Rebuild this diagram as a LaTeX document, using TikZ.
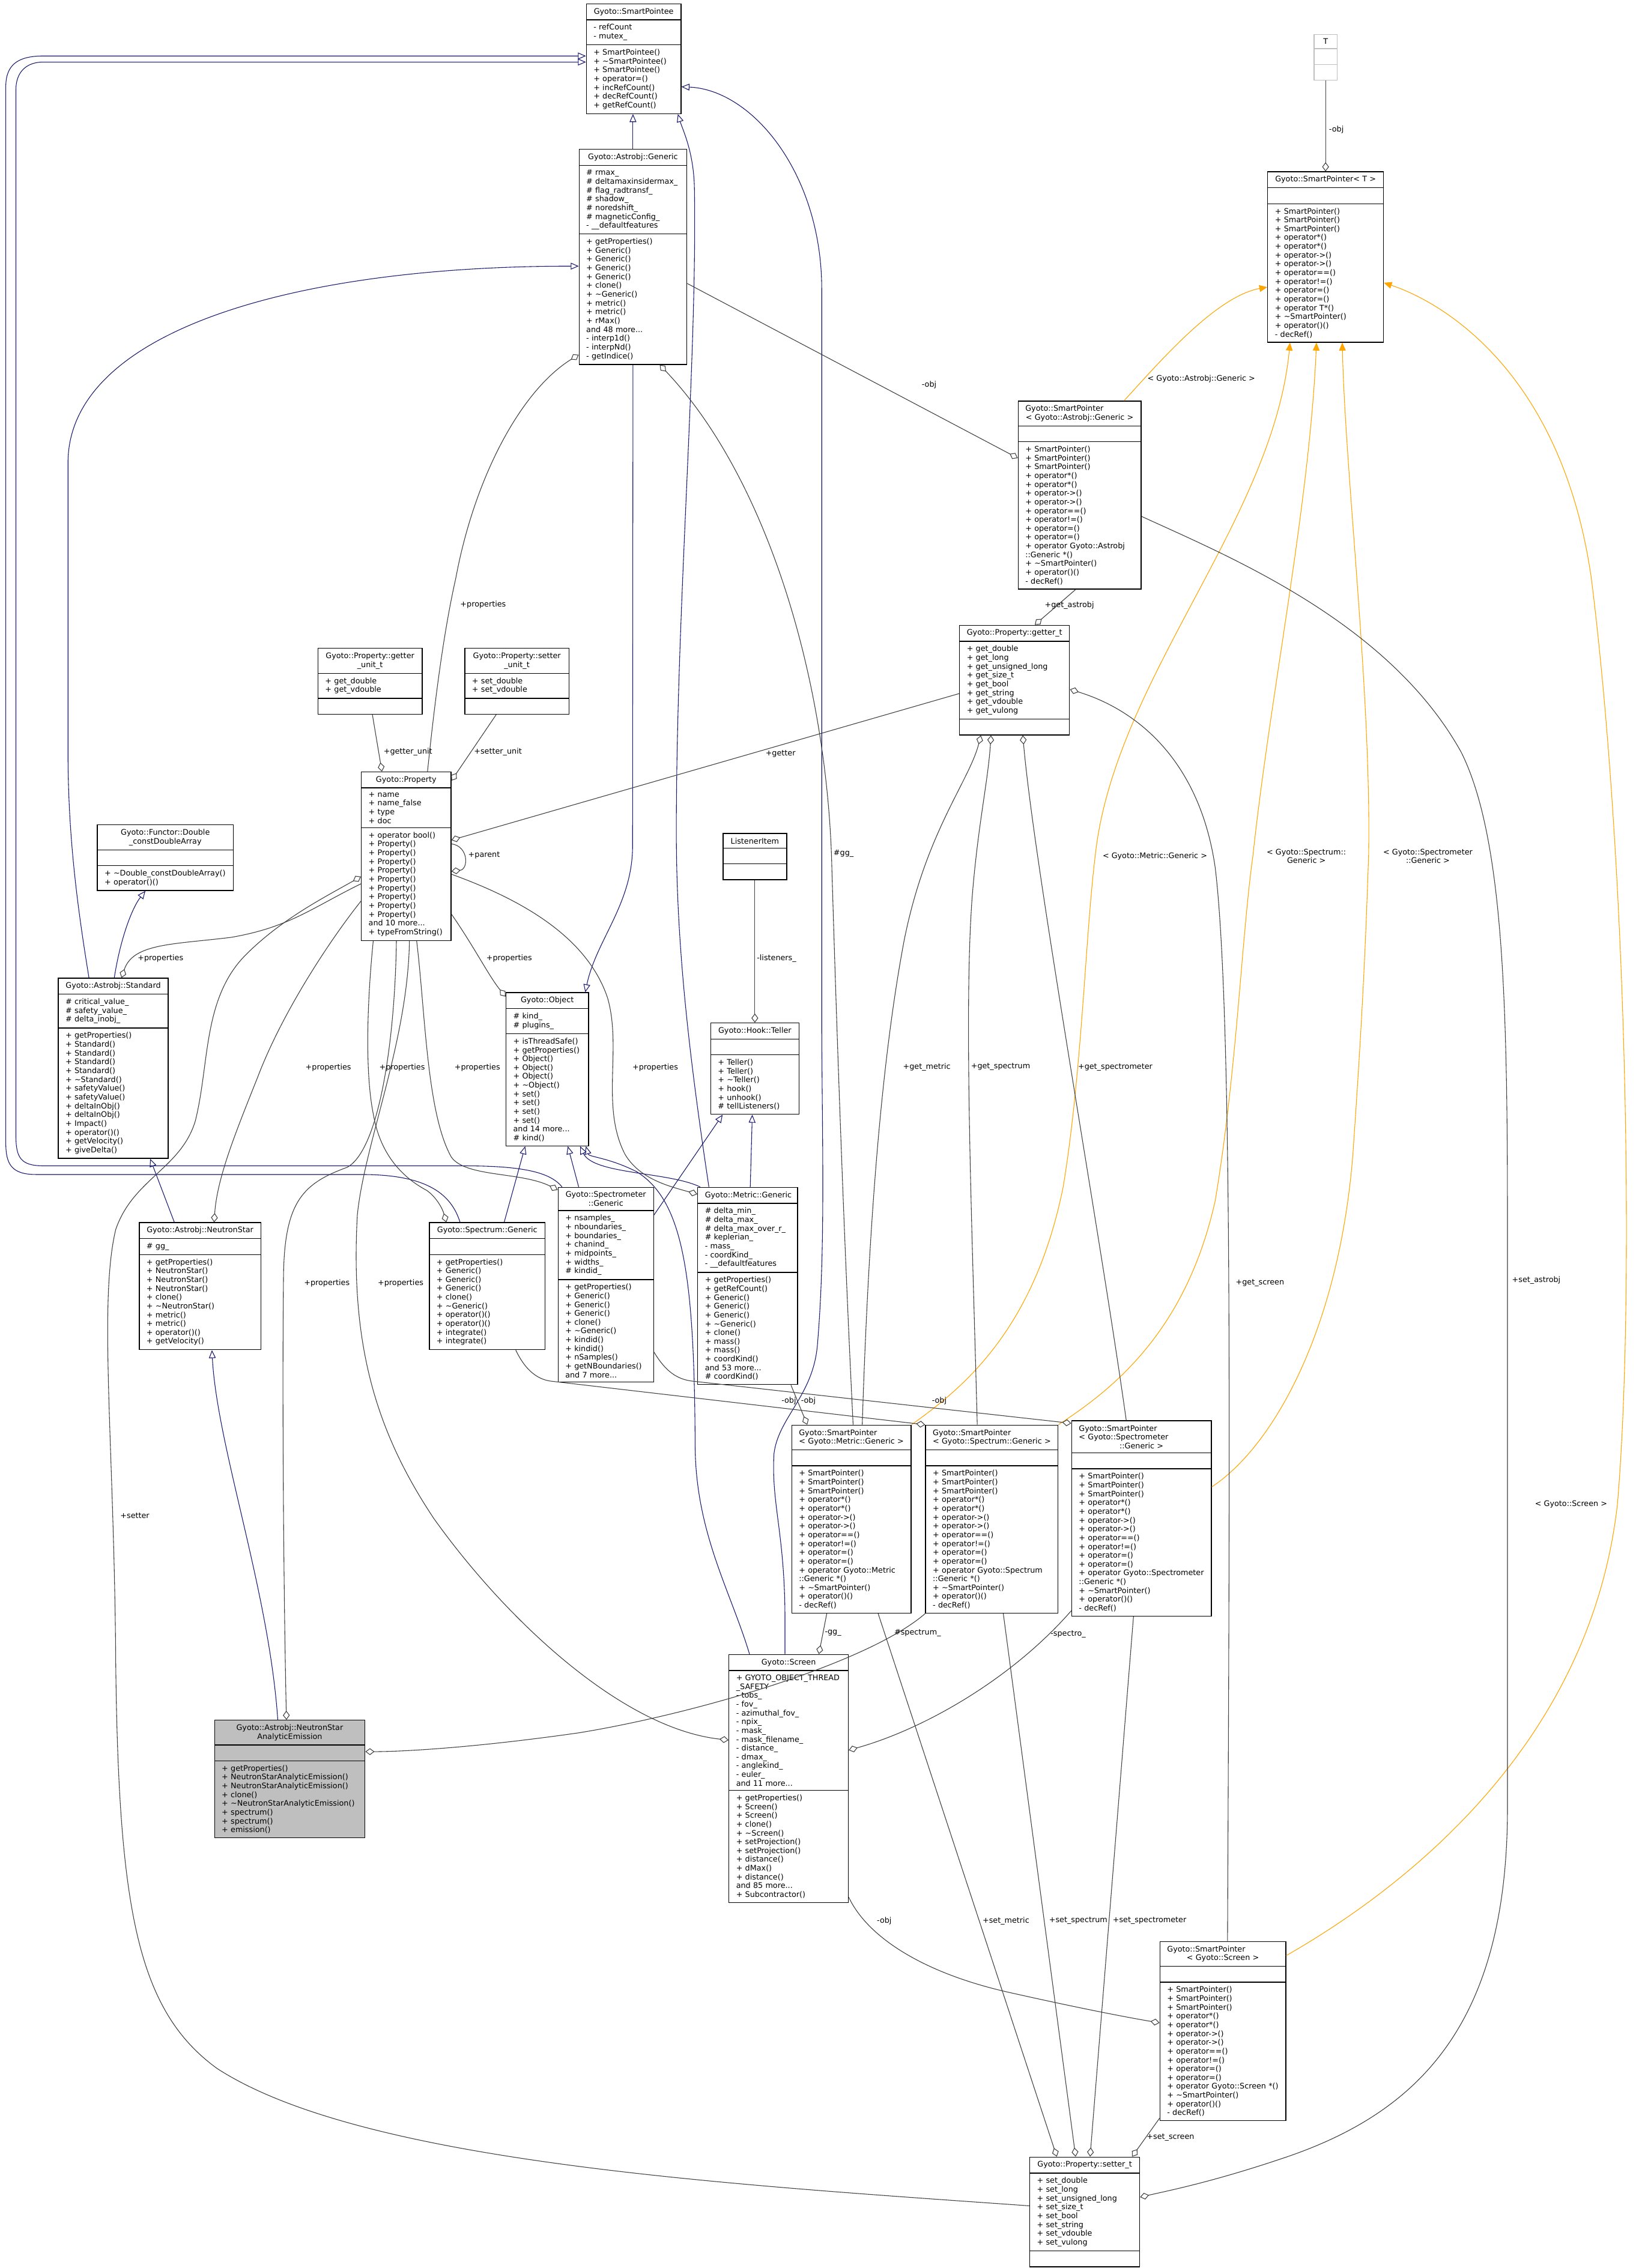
\documentclass[tikz,border=0pt]{standalone}
\usepackage{tikz}
\usepackage{fontspec}
\setmainfont{DejaVu Sans}[HyphenChar=None]
\usetikzlibrary{arrows.meta,shapes.multipart}
\definecolor{midnight}{HTML}{191970}
\definecolor{edgegrey}{HTML}{404040}
\definecolor{boxgrey}{HTML}{BFBFBF}
\definecolor{tplorange}{HTML}{FFA500}
\setlength{\parindent}{0pt}
\newcommand{\dx}{\fontsize{5.3}{6.08}\selectfont}
\newcommand{\tld}{\textasciitilde}
\newcommand{\emp}{\rule[-1pt]{0pt}{5pt}}

\begin{document}
\begin{tikzpicture}[x=1pt,y=-1pt,
  cls/.style={rectangle split,rectangle split parts=3,draw,line width=0.55pt,
    inner xsep=5pt,inner ysep=2.7pt,text width=#1,align=left,anchor=north west,font=\dx},
  inh/.style={draw=midnight,line width=0.45pt,-{Triangle[open,length=5.5pt,width=4.7pt]}},
  agg/.style={draw=edgegrey,line width=0.45pt,-{Diamond[open,length=6.3pt,width=4.7pt]}},
  tpl/.style={draw=tplorange,line width=0.45pt,-{Triangle[length=5.5pt,width=4.7pt,fill=tplorange]}},
  lbl/.style={anchor=west,inner sep=0pt,font=\dx}]
  \path[use as bounding box,fill=white] (0,0) rectangle (1137,1568);

  \node[cls=55.5pt] (spee) at (405,2.4) {{\centering Gyoto::SmartPointee\par}
    \nodepart{two}-~refCount\\-~mutex\_
    \nodepart{three}+~SmartPointee()\\+~\tld{}SmartPointee()\\+~SmartPointee()\\+~operator=()\\+~incRefCount()\\+~decRefCount()\\+~getRefCount()};
  \node[cls=64.5pt] (agen) at (400,103) {{\centering Gyoto::Astrobj::Generic\par}
    \nodepart{two}\#~rmax\_\\\#~deltamaxinsidermax\_\\\#~flag\_radtransf\_\\\#~shadow\_\\\#~noredshift\_\\\#~magneticConfig\_\\-~\_\_defaultfeatures
    \nodepart{three}+~getProperties()\\+~Generic()\\+~Generic()\\+~Generic()\\+~Generic()\\+~clone()\\+~\tld{}Generic()\\+~metric()\\+~metric()\\+~rMax()\\and~48~more...\\-~interp1d()\\-~interpNd()\\-~getIndice()};
  \node[cls=6pt,draw=boxgrey] (tpar) at (908,23.5) {{\centering T\par}\nodepart{two}\emp\nodepart{three}\emp};
  \node[cls=70pt] (spt) at (876,118.5) {{\centering Gyoto::SmartPointer<~T~>\par}
    \nodepart{two}\emp
    \nodepart{three}+~SmartPointer()\\+~SmartPointer()\\+~SmartPointer()\\+~operator*()\\+~operator*()\\+~operator->()\\+~operator->()\\+~operator==()\\+~operator!=()\\+~operator=()\\+~operator=()\\+~operator~T*()\\+~\tld{}SmartPointer()\\+~operator()()\\-~decRef()};
  \node[cls=75pt] (spag) at (703.5,277) {Gyoto::SmartPointer\par{\centering <~Gyoto::Astrobj::Generic~>\par}
    \nodepart{two}\emp
    \nodepart{three}+~SmartPointer()\\+~SmartPointer()\\+~SmartPointer()\\+~operator*()\\+~operator*()\\+~operator->()\\+~operator->()\\+~operator==()\\+~operator!=()\\+~operator=()\\+~operator=()\\+~operator~Gyoto::Astrobj\\::Generic~*()\\+~\tld{}SmartPointer()\\+~operator()()\\-~decRef()};
  \node[cls=66pt] (gett) at (663,432) {{\centering Gyoto::Property::getter\_t\par}
    \nodepart{two}+~get\_double\\+~get\_long\\+~get\_unsigned\_long\\+~get\_size\_t\\+~get\_bool\\+~get\_string\\+~get\_vdouble\\+~get\_vulong
    \nodepart{three}\emp};
  \node[cls=62pt] (getu) at (219.5,448) {{\centering Gyoto::Property::getter\\\_unit\_t\par}
    \nodepart{two}+~get\_double\\+~get\_vdouble
    \nodepart{three}\emp};
  \node[cls=62pt] (setu) at (321,448) {{\centering Gyoto::Property::setter\\\_unit\_t\par}
    \nodepart{two}+~set\_double\\+~set\_vdouble
    \nodepart{three}\emp};
  \node[cls=52pt] (prop) at (249.5,533.4) {{\centering Gyoto::Property\par}
    \nodepart{two}+~name\\+~name\_false\\+~type\\+~doc
    \nodepart{three}+~operator~bool()\\+~Property()\\+~Property()\\+~Property()\\+~Property()\\+~Property()\\+~Property()\\+~Property()\\+~Property()\\+~Property()\\and~10~more...\\+~typeFromString()};
  \node[cls=84pt] (func) at (67,570) {{\centering Gyoto::Functor::Double\\\_constDoubleArray\par}
    \nodepart{two}\emp
    \nodepart{three}+~\tld{}Double\_constDoubleArray()\\+~operator()()};
  \node[cls=66pt] (stdd) at (40,676) {{\centering Gyoto::Astrobj::Standard\par}
    \nodepart{two}\#~critical\_value\_\\\#~safety\_value\_\\\#~delta\_inobj\_
    \nodepart{three}+~getProperties()\\+~Standard()\\+~Standard()\\+~Standard()\\+~Standard()\\+~\tld{}Standard()\\+~safetyValue()\\+~safetyValue()\\+~deltaInObj()\\+~deltaInObj()\\+~Impact()\\+~operator()()\\+~getVelocity()\\+~giveDelta()};
  \node[cls=34pt] (lsit) at (499.5,576) {{\centering ListenerItem\par}\nodepart{two}\emp\nodepart{three}\emp};
  \node[cls=47pt] (obj) at (349.5,686) {{\centering Gyoto::Object\par}
    \nodepart{two}\#~kind\_\\\#~plugins\_
    \nodepart{three}+~isThreadSafe()\\+~getProperties()\\+~Object()\\+~Object()\\+~Object()\\+~\tld{}Object()\\+~set()\\+~set()\\+~set()\\+~set()\\and~14~more...\\\#~kind()};
  \node[cls=51pt] (tell) at (491,707) {{\centering Gyoto::Hook::Teller\par}
    \nodepart{two}\emp
    \nodepart{three}+~Teller()\\+~Teller()\\+~\tld{}Teller()\\+~hook()\\+~unhook()\\\#~tellListeners()};
  \node[cls=70pt] (spec) at (296.5,845) {{\centering Gyoto::Spectrum::Generic\par}
    \nodepart{two}\emp
    \nodepart{three}+~getProperties()\\+~Generic()\\+~Generic()\\+~Generic()\\+~clone()\\+~\tld{}Generic()\\+~operator()()\\+~operator()()\\+~integrate()\\+~integrate()};
  \node[cls=56pt] (sptr) at (385.5,820.6) {{\centering Gyoto::Spectrometer\\::Generic\par}
    \nodepart{two}+~nsamples\_\\+~nboundaries\_\\+~boundaries\_\\+~chanind\_\\+~midpoints\_\\+~widths\_\\\#~kindid\_
    \nodepart{three}+~getProperties()\\+~Generic()\\+~Generic()\\+~Generic()\\+~clone()\\+~\tld{}Generic()\\+~kindid()\\+~kindid()\\+~nSamples()\\+~getNBoundaries()\\and~7~more...};
  \node[cls=59pt] (metr) at (482,820.6) {{\centering Gyoto::Metric::Generic\par}
    \nodepart{two}\#~delta\_min\_\\\#~delta\_max\_\\\#~delta\_max\_over\_r\_\\\#~keplerian\_\\-~mass\_\\-~coordKind\_\\-~\_\_defaultfeatures
    \nodepart{three}+~getProperties()\\+~getRefCount()\\+~Generic()\\+~Generic()\\+~Generic()\\+~\tld{}Generic()\\+~clone()\\+~mass()\\+~mass()\\+~coordKind()\\and~53~more...\\\#~coordKind()};
  \node[cls=74pt] (nstar) at (96,845) {{\centering Gyoto::Astrobj::NeutronStar\par}
    \nodepart{two}\#~gg\_
    \nodepart{three}+~getProperties()\\+~NeutronStar()\\+~NeutronStar()\\+~NeutronStar()\\+~clone()\\+~\tld{}NeutronStar()\\+~metric()\\+~metric()\\+~operator()()\\+~getVelocity()};
  \node[cls=72.5pt] (spm) at (547,985) {Gyoto::SmartPointer\par{\centering <~Gyoto::Metric::Generic~>\par}
    \nodepart{two}\emp
    \nodepart{three}+~SmartPointer()\\+~SmartPointer()\\+~SmartPointer()\\+~operator*()\\+~operator*()\\+~operator->()\\+~operator->()\\+~operator==()\\+~operator!=()\\+~operator=()\\+~operator=()\\+~operator~Gyoto::Metric\\::Generic~*()\\+~\tld{}SmartPointer()\\+~operator()()\\-~decRef()};
  \node[cls=81.5pt] (sps) at (639.5,985) {Gyoto::SmartPointer\par{\centering <~Gyoto::Spectrum::Generic~>\par}
    \nodepart{two}\emp
    \nodepart{three}+~SmartPointer()\\+~SmartPointer()\\+~SmartPointer()\\+~operator*()\\+~operator*()\\+~operator->()\\+~operator->()\\+~operator==()\\+~operator!=()\\+~operator=()\\+~operator=()\\+~operator~Gyoto::Spectrum\\::Generic~*()\\+~\tld{}SmartPointer()\\+~operator()()\\-~decRef()};
  \node[cls=86.5pt] (spsm) at (740.5,982) {Gyoto::SmartPointer\\<~Gyoto::Spectrometer\par{\centering ::Generic~>\par}
    \nodepart{two}\emp
    \nodepart{three}+~SmartPointer()\\+~SmartPointer()\\+~SmartPointer()\\+~operator*()\\+~operator*()\\+~operator->()\\+~operator->()\\+~operator==()\\+~operator!=()\\+~operator=()\\+~operator=()\\+~operator~Gyoto::Spectrometer\\::Generic~*()\\+~\tld{}SmartPointer()\\+~operator()()\\-~decRef()};
  \node[cls=72.5pt] (scr) at (503.6,1143.6) {{\centering Gyoto::Screen\par}
    \nodepart{two}+~GYOTO\_OBJECT\_THREAD\\\_SAFETY\\-~tobs\_\\-~fov\_\\-~azimuthal\_fov\_\\-~npix\_\\-~mask\_\\-~mask\_filename\_\\-~distance\_\\-~dmax\_\\-~anglekind\_\\-~euler\_\\and~11~more...
    \nodepart{three}+~getProperties()\\+~Screen()\\+~Screen()\\+~clone()\\+~\tld{}Screen()\\+~setProjection()\\+~setProjection()\\+~distance()\\+~dMax()\\+~distance()\\and~85~more...\\+~Subcontractor()};
  \node[cls=94pt,fill=boxgrey] (nsae) at (148,1189) {{\centering Gyoto::Astrobj::NeutronStar\\AnalyticEmission\par}
    \nodepart{two}\emp
    \nodepart{three}+~getProperties()\\+~NeutronStarAnalyticEmission()\\+~NeutronStarAnalyticEmission()\\+~clone()\\+~\tld{}NeutronStarAnalyticEmission()\\+~spectrum()\\+~spectrum()\\+~emission()};
  \node[cls=77pt] (spsc) at (801.5,1342) {Gyoto::SmartPointer\par{\centering <~Gyoto::Screen~>\par}
    \nodepart{two}\emp
    \nodepart{three}+~SmartPointer()\\+~SmartPointer()\\+~SmartPointer()\\+~operator*()\\+~operator*()\\+~operator->()\\+~operator->()\\+~operator==()\\+~operator!=()\\+~operator=()\\+~operator=()\\+~operator~Gyoto::Screen~*()\\+~\tld{}SmartPointer()\\+~operator()()\\-~decRef()};
  \node[cls=66pt] (sett) at (711.5,1491) {{\centering Gyoto::Property::setter\_t\par}
    \nodepart{two}+~set\_double\\+~set\_long\\+~set\_unsigned\_long\\+~set\_size\_t\\+~set\_bool\\+~set\_string\\+~set\_vdouble\\+~set\_vulong
    \nodepart{three}\emp};

  \draw[inh] (agen.north) -- (agen.north |- spee.south);
  \draw[inh] ([xshift=21.5]spec.north west) .. controls (312,826) and (296,812) .. (250,812) -- (25,812) .. controls (8,812) and (4,805) .. (4,790) -- (4,60) .. controls (4,45) and (12,38.7) .. (30,38.7) -- ([yshift=-36.3]spee.north west);
  \draw[inh] ([xshift=3]sptr.north west) .. controls (380,810) and (360,806) .. (320,806) -- (30,806) .. controls (14,806) and (11,800) .. (11,785) -- (11,62) .. controls (11,50) and (18,42.9) .. (30,42.9) -- ([yshift=-40.5]spee.north west);
  \draw[inh] ([xshift=21.5]stdd.north west) .. controls (54,630) and (47,580) .. (47,520) -- (47,320) .. controls (47,230) and (200,184) .. ([yshift=-81]agen.north west);
  \draw[inh] ([xshift=39]stdd.north west) .. controls (83,650) and (91,628) .. ([xshift=33.5]func.south west);
  \draw[inh] ([xshift=24.5]nstar.north west) -- ([xshift=63.8]stdd.south west);
  \draw[inh] ([xshift=44]nsae.north west) .. controls (186,1100) and (150,1000) .. ([xshift=50.5]nstar.south west);
  \draw[inh] (agen.south) -- (437.25,585) .. controls (437.25,625) and (412,650) .. ([xshift=-2.5]obj.north east);
  \draw[inh] ([xshift=52]spec.north west) -- ([xshift=13.5]obj.south west);
  \draw[inh] ([xshift=14.5]sptr.north west) -- ([xshift=43]obj.south west);
  \draw[inh] ([xshift=2]metr.north west) .. controls (462,810) and (410,812) .. ([xshift=51.5]obj.south west);
  \draw[inh] ([xshift=14.5]scr.north west) .. controls (505,1100) and (481,1060) .. (480.5,1000) .. controls (480,880) and (472,830) .. (440,810) .. controls (420,800) and (407,800) .. ([xshift=55.5]obj.south west);
  \draw[inh] ([xshift=39]scr.north west) -- (542.6,1120) .. controls (542.6,1060) and (533,1040) .. (535,1005) .. controls (538,980) and (562,965) .. (565,930) .. controls (571,860) and (568,780) .. (568,700) -- (568,200) .. controls (568,120) and (520,62) .. ([yshift=-57.6]spee.north east);
  \draw[inh] ([xshift=8]metr.north west) .. controls (478,740) and (467.5,660) .. (467.5,575) .. controls (467.5,420) and (482,250) .. (480,130) .. controls (479.5,105) and (472,90) .. ([xshift=-2.5]spee.south east);
  \draw[inh] ([yshift=-19.4]sptr.north east) -- ([xshift=8.5]tell.south west);
  \draw[inh] ([xshift=36.6]metr.north west) -- ([xshift=29]tell.south west);

  \draw[tpl] ([xshift=73.5]spag.north west) .. controls (800,252) and (840,205) .. ([yshift=-80]spt.north west);
  \draw[tpl] (spm.north east) .. controls (665,960) and (715,920) .. (735,820) .. controls (748,740) and (750,650) .. (757,592) .. controls (770,470) and (880,360) .. ([xshift=15.7]spt.south west);
  \draw[tpl] (sps.north east) .. controls (770,960) and (820,920) .. (840,830) .. controls (855,740) and (858,650) .. (866,592) .. controls (878,480) and (905,350) .. ([xshift=34]spt.south west);
  \draw[tpl] ([yshift=-46]spsm.north east) .. controls (880,1000) and (925,920) .. (935,800) .. controls (942,700) and (944,650) .. (946,592) .. controls (948,480) and (930,330) .. ([xshift=51.8]spt.south west);
  \draw[tpl] ([yshift=-10]spsc.north east) .. controls (980,1300) and (1100,1200) .. (1118,1040) .. controls (1130,900) and (1125,600) .. (1100,400) .. controls (1080,260) and (1000,210) .. ([yshift=-77]spt.north east);

  \draw[agg] (tpar.south) -- (tpar.south |- spt.north);
  \draw[agg] ([yshift=-93]agen.north east) -- ([yshift=-39.7]spag.north west);
  \draw[agg] ([xshift=40]spag.south west) -- ([xshift=52.3]gett.north west);
  \draw[agg] ([yshift=-80]spag.north east) .. controls (850,385) and (960,430) .. (1010,520) .. controls (1040,580) and (1042,700) .. (1042,850) -- (1042,1250) .. controls (1042,1400) and (980,1460) .. (890,1491) .. controls (840,1508) and (810,1514) .. ([yshift=-28]sett.north east);
  \draw[agg] ([yshift=-47.5]gett.north west) -- ([yshift=-47.4]prop.north east);
  \draw[agg] ([xshift=37.9]getu.south west) -- ([xshift=14.5]prop.north west);
  \draw[agg] ([xshift=22]setu.south west) -- ([yshift=-6.3]prop.north east);
  \draw[agg] ([yshift=-50]prop.north east) .. controls (324,585) and (324,601) .. ([yshift=-69]prop.north east);
  \draw[agg] ([xshift=46]prop.north west) .. controls (300,490) and (306,440) .. (315,400) .. controls (328,330) and (360,270) .. ([yshift=7]agen.south west);
  \draw[agg] ([yshift=-77.6]prop.north west) .. controls (215,628) and (200,641) .. (160,648) .. controls (120,653) and (92,652) .. ([xshift=44]stdd.north west);
  \draw[agg] ([yshift=-89.6]prop.north west) .. controls (228,650) and (195,700) .. (178,745) .. controls (162,785) and (150,815) .. ([xshift=52]nstar.north west);
  \draw[agg] ([yshift=-98.6]prop.north east) .. controls (328,655) and (338,675) .. ([yshift=-3]obj.north west);
  \draw[agg] ([xshift=8.5]prop.south west) .. controls (254,690) and (252,740) .. (258,770) .. controls (263,800) and (280,815) .. (295,823) .. controls (302,828) and (306,836) .. ([xshift=12]spec.north west);
  \draw[agg] ([xshift=38.5]prop.south west) .. controls (294,700) and (295,770) .. (312,800) .. controls (322,814) and (360,810) .. ([yshift=-2]sptr.north west);
  \draw[agg] ([yshift=-71]prop.north east) .. controls (355,620) and (405,645) .. (420,690) .. controls (430,725) and (415,765) .. (432,798) .. controls (442,815) and (462,820) .. ([yshift=-5]metr.north west);
  \draw[agg] ([xshift=24.5]prop.south west) .. controls (273,720) and (262,795) .. (240,807) .. controls (210,818) and (197,830) .. (196,880) .. controls (195,960) and (196,1100) .. ([xshift=50]nsae.north west);
  \draw[agg] ([xshift=33.5]prop.south west) .. controls (282,720) and (252,790) .. (247,840) .. controls (242,930) and (260,990) .. (300,1050) .. controls (350,1120) and (430,1195) .. ([yshift=-59.4]scr.north west);
  \draw[agg] ([yshift=-34]sett.north west) .. controls (500,1510) and (250,1495) .. (150,1430) .. controls (95,1390) and (82,1320) .. (80,1150) .. controls (79,1000) and (68,900) .. (80,850) .. controls (92,815) and (125,808) .. (135,775) .. controls (145,735) and (140,690) .. (170,660) .. controls (195,635) and (225,620) .. ([yshift=-72.6]prop.north west);
  \draw[agg] ([xshift=49]spm.north west) .. controls (600,860) and (608,740) .. (625,650) .. controls (640,575) and (670,540) .. ([xshift=15]gett.south west);
  \draw[agg] ([xshift=42.7]spm.north west) .. controls (583,850) and (578,700) .. (575,600) .. controls (572,470) and (530,330) .. ([xshift=-19]agen.south east);
  \draw[agg] ([xshift=36]sps.north west) .. controls (672,850) and (666,700) .. (672,620) .. controls (676,570) and (683,540) .. ([xshift=22]gett.south west);
  \draw[agg] ([xshift=38]spsm.north west) .. controls (760,850) and (715,600) .. ([xshift=44]gett.south west);
  \draw[agg] ([xshift=47]spsc.north west) .. controls (850,1000) and (852,700) .. (840,600) .. controls (830,530) and (790,492) .. ([yshift=-44.6]gett.north east);
  \draw[agg] ([xshift=60]spm.south west) -- ([xshift=19]sett.north west);
  \draw[agg] ([xshift=54]sps.south west) -- ([xshift=32]sett.north west);
  \draw[agg] ([xshift=43]spsm.south west) -- ([xshift=42]sett.north west);
  \draw[agg] ([yshift=2]spsc.south west) -- ([xshift=71]sett.north west);
  \draw[agg] ([xshift=24.5]spm.south west) -- ([xshift=62.4]scr.north west);
  \draw[agg] (sps.south west) .. controls (600,1150) and (480,1185) .. (400,1198) .. controls (330,1208) and (280,1211) .. ([yshift=-22]nsae.north east);
  \draw[agg] ([yshift=4]spsm.south west) .. controls (700,1160) and (640,1195) .. ([yshift=-66.4]scr.north east);
  \draw[agg] ([yshift=4]scr.south east) .. controls (600,1340) and (640,1365) .. (700,1378) .. controls (740,1387) and (775,1394) .. ([yshift=-56.5]spsc.north west);
  \draw[agg] (lsit.south) -- (lsit.south |- tell.north);
  \draw[agg] ([xshift=64.7]metr.south west) -- ([xshift=11]spm.north west);
  \draw[agg] ([xshift=60]spec.south west) .. controls (362,945) and (370,954) .. (382,955) -- (sps.north west);
  \draw[agg] ([yshift=21]sptr.south east) .. controls (460,948) and (468,954) .. (480,955) -- ([yshift=-2]spsm.north west);

  \node[lbl] (lTobj) at (918.5,89.6) {-obj};
  \node[lbl] (lAobj) at (637,266) {-obj};
  \node[lbl] (lgast) at (722,418.5) {+get\_astrobj};
  \node[lbl] (lsast) at (1045,885) {+set\_astrobj};
  \node[lbl] (lget) at (529,521) {+getter};
  \node[lbl] (lgu) at (265,519.7) {+getter\_unit};
  \node[lbl] (lsu) at (327.5,519.7) {+setter\_unit};
  \node[lbl] (lpar) at (323.5,591.5) {+parent};
  \node[lbl] (lpAG) at (318,418) {+properties};
  \node[lbl] (lpSt) at (95,662.5) {+properties};
  \node[lbl] (lpNS) at (211,738) {+properties};
  \node[lbl] (lpOb) at (336,662.5) {+properties};
  \node[lbl] (lpSp) at (262,738) {+properties};
  \node[lbl] (lpSm) at (314,738) {+properties};
  \node[lbl] (lpMe) at (437,738) {+properties};
  \node[lbl] (lpNA) at (210,887) {+properties};
  \node[lbl] (lpSc) at (261,887) {+properties};
  \node[lbl] (lset) at (83,1048) {+setter};
  \node[lbl] (lgme) at (624,737.6) {+get\_metric};
  \node[lbl] (lgg) at (576,590) {\#gg\_};
  \node[lbl] (lgsp) at (671,737.6) {+get\_spectrum};
  \node[lbl] (lgsm) at (745,738) {+get\_spectrometer};
  \node[lbl] (lgsc) at (854,887) {+get\_screen};
  \node[lbl] (lsme) at (679,1328) {+set\_metric};
  \node[lbl] (lssp) at (725,1328) {+set\_spectrum};
  \node[lbl] (lssm) at (769,1328) {+set\_spectrometer};
  \node[lbl] (lssc) at (792.5,1477.6) {+set\_screen};
  \node[lbl] (lggs) at (570,1129) {-gg\_};
  \node[lbl] (lspc) at (618,1129) {\#spectrum\_};
  \node[lbl] (lsto) at (726,1130) {-spectro\_};
  \node[lbl] (lCobj) at (606,1328) {-obj};
  \node[lbl] (llis) at (523,662.5) {-listeners\_};
  \node[lbl] (lMobj) at (553.5,968.6) {-obj};
  \node[lbl] (lSpobj) at (540,968.6) {-obj};
  \node[lbl] (lSmobj) at (644,968.6) {-obj};
  \node[lbl] (ltA) at (793,262) {<~Gyoto::Astrobj::Generic~>};
  \node[lbl] (ltM) at (762,592) {<~Gyoto::Metric::Generic~>};
  \node[lbl,align=center,anchor=center] (ltS) at (903,592) {<~Gyoto::Spectrum::\\Generic~>};
  \node[lbl,align=center,anchor=center] (ltT) at (987,592) {<~Gyoto::Spectrometer\\::Generic~>};
  \node[lbl,anchor=center] (ltC) at (1086,1040) {<~Gyoto::Screen~>};
\end{tikzpicture}
\end{document}
